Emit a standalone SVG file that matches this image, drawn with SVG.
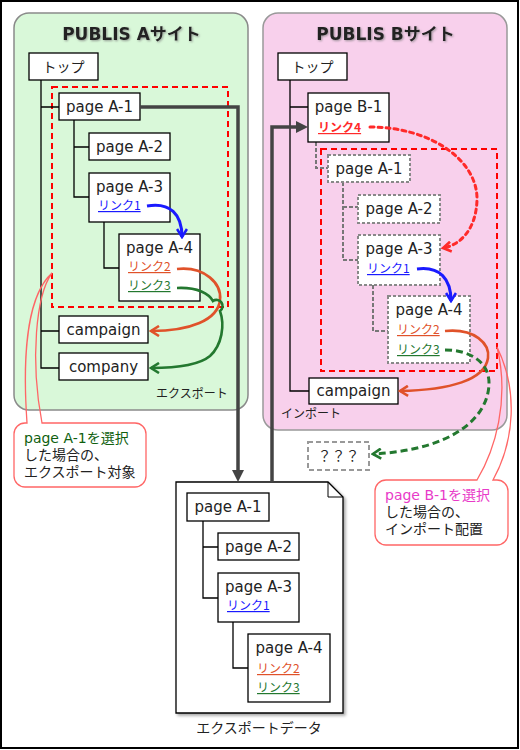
<svg xmlns="http://www.w3.org/2000/svg" width="520" height="750" viewBox="0 0 520 750">
<style>
.lat{font-family:"DejaVu Sans","Noto Sans CJK JP",sans-serif;font-size:15px;fill:#222}
.jp{font-family:"Noto Sans CJK JP","DejaVu Sans",sans-serif;fill:#222}
.box{fill:#fff;stroke:#000;stroke-width:1.3}
.dbox{fill:#fff;stroke:#888;stroke-width:2;stroke-dasharray:3 2}
.tree{fill:none;stroke:#000;stroke-width:1.3}
.dtree{fill:none;stroke:#777;stroke-width:2;stroke-dasharray:4 2}
.sel{fill:none;stroke:#f00;stroke-width:2;stroke-dasharray:6 4}
.lk{font-family:"Noto Sans CJK JP","DejaVu Sans",sans-serif;font-size:12px;text-decoration:underline}
.title{font-family:"DejaVu Sans","Noto Sans CJK JP",sans-serif;font-size:17px;font-weight:bold;fill:#222}
.thick{fill:none;stroke:#444;stroke-width:3.5}
.call{fill:none;stroke:#f66;stroke-width:1.3}
.ctext{font-family:"DejaVu Sans","Noto Sans CJK JP",sans-serif;font-size:14px}
.dk{fill:#222}
.cg{fill:#0f5f0f}
.cm{fill:#e83ac8}
</style>
<defs>
<filter id="tsh" x="-10%" y="-30%" width="120%" height="160%"><feDropShadow dx="1" dy="1" stdDeviation="0.8" flood-color="#777" flood-opacity="0.7"/></filter>
<filter id="dsh" x="-10%" y="-10%" width="120%" height="120%"><feDropShadow dx="2" dy="2" stdDeviation="1.5" flood-color="#000" flood-opacity="0.35"/></filter>
<marker id="mt" viewBox="0 0 12 12" refX="0" refY="6" markerWidth="12" markerHeight="12" markerUnits="userSpaceOnUse" orient="auto"><path d="M0,0 L12,6 L0,12 z" fill="#444"/></marker>
<marker id="mb" viewBox="0 0 12 12" refX="10" refY="6" markerWidth="12" markerHeight="12" markerUnits="userSpaceOnUse" orient="auto"><path d="M2,1 L10,6 L2,11" fill="none" stroke="#1a1aff" stroke-width="2.6"/></marker>
<marker id="mo" viewBox="0 0 12 12" refX="10" refY="6" markerWidth="12" markerHeight="12" markerUnits="userSpaceOnUse" orient="auto"><path d="M2,1 L10,6 L2,11" fill="none" stroke="#e0522a" stroke-width="2.6"/></marker>
<marker id="mg" viewBox="0 0 12 12" refX="10" refY="6" markerWidth="12" markerHeight="12" markerUnits="userSpaceOnUse" orient="auto"><path d="M2,1 L10,6 L2,11" fill="none" stroke="#23782f" stroke-width="2.6"/></marker>
<marker id="mr" viewBox="0 0 12 12" refX="10" refY="6" markerWidth="12" markerHeight="12" markerUnits="userSpaceOnUse" orient="auto"><path d="M2,1 L10,6 L2,11" fill="none" stroke="#ff2a2a" stroke-width="2.6"/></marker>
</defs>
<rect x="0" y="0" width="520" height="750" fill="#fff"/>
<rect x="1" y="1" width="517" height="747" fill="none" stroke="#000" stroke-width="2"/>

<g id="siteA">
<rect x="14" y="13" width="234" height="397" rx="15" fill="#d9f8d9" stroke="#8a8a8a" stroke-width="1.5"/>
<text class="title" x="131.5" y="40" text-anchor="middle" filter="url(#tsh)">PUBLIS Aサイト</text>
<text class="jp" x="156" y="398" font-size="12">エクスポート</text>
<rect class="sel" x="52" y="87" width="176" height="220"/>
</g>
<g id="siteB">
<rect x="263" y="13" width="244" height="417" rx="15" fill="#f8d0ec" stroke="#999" stroke-width="1.5"/>
<text class="title" x="385.5" y="40" text-anchor="middle" filter="url(#tsh)">PUBLIS Bサイト</text>
<text class="jp" x="281" y="418" font-size="12">インポート</text>
<rect class="sel" x="321" y="149" width="176" height="222"/>
</g>

<g id="trees">
<path class="tree" d="M41,80 V368 H59 M41,107 H59 M41,331 H59 M74,120 V197 H89 M74,147 H89 M104,222 V268 H119"/>
<path class="tree" d="M290,80 V391 H309 M290,107 H308"/>
<path class="dtree" d="M316,142 V168 H328 M343,182 V260 H358 M343,207 H358 M373,285 V331 H388"/>
</g>

<g id="a-top"><rect class="box" x="29" y="53" width="69" height="27"/><text class="jp" x="63.5" y="72" font-size="14" text-anchor="middle">トップ</text></g>
<g id="a-p1"><rect class="box" x="59" y="93" width="81" height="27"/><text class="lat" x="99.5" y="112" text-anchor="middle">page A-1</text></g>
<g id="a-p2"><rect class="box" x="89" y="133" width="81" height="27"/><text class="lat" x="129.5" y="152" text-anchor="middle">page A-2</text></g>
<g id="a-p3"><rect class="box" x="89" y="173" width="81" height="49"/><text class="lat" x="129.5" y="192" text-anchor="middle">page A-3</text><text class="lk" x="98" y="210" fill="#1a1aff">リンク1</text></g>
<g id="a-p4"><rect class="box" x="119" y="234" width="81" height="67"/><text class="lat" x="159.5" y="253" text-anchor="middle">page A-4</text><text class="lk" x="128" y="271" fill="#e0522a">リンク2</text><text class="lk" x="128" y="290" fill="#23782f">リンク3</text></g>
<g id="a-camp"><rect class="box" x="59" y="316" width="89" height="27"/><text class="lat" x="103.5" y="335" text-anchor="middle">campaign</text></g>
<g id="a-comp"><rect class="box" x="59" y="353" width="89" height="27"/><text class="lat" x="103.5" y="372" text-anchor="middle">company</text></g>

<g id="b-top"><rect class="box" x="278" y="53" width="69" height="27"/><text class="jp" x="312.5" y="72" font-size="14" text-anchor="middle">トップ</text></g>
<g id="b-p1"><rect class="box" x="308" y="93" width="81" height="49"/><text class="lat" x="348.5" y="112" text-anchor="middle">page B-1</text><text class="lk" x="318" y="132" fill="#ff2a2a" font-weight="bold">リンク4</text></g>
<g id="b-a1"><rect class="dbox" x="328" y="155" width="82" height="27"/><text class="lat" x="369" y="174" text-anchor="middle">page A-1</text></g>
<g id="b-a2"><rect class="dbox" x="358" y="195" width="82" height="28"/><text class="lat" x="399" y="214" text-anchor="middle">page A-2</text></g>
<g id="b-a3"><rect class="dbox" x="358" y="235" width="82" height="50"/><text class="lat" x="399" y="254" text-anchor="middle">page A-3</text><text class="lk" x="367" y="273" fill="#1a1aff">リンク1</text></g>
<g id="b-a4"><rect class="dbox" x="388" y="296" width="82" height="67"/><text class="lat" x="429" y="315" text-anchor="middle">page A-4</text><text class="lk" x="397" y="334" fill="#e0522a">リンク2</text><text class="lk" x="397" y="354" fill="#23782f">リンク3</text></g>
<g id="b-camp"><rect class="box" x="309" y="378" width="89" height="26"/><text class="lat" x="353.5" y="396" text-anchor="middle">campaign</text></g>
<g id="unknown"><rect x="308" y="442" width="61" height="28" fill="#fff" stroke="#999" stroke-width="2" stroke-dasharray="5 3"/><text class="jp" x="338.5" y="461" font-size="14" text-anchor="middle">？？？</text></g>

<g id="exportdata">
<path d="M176,482 H328 L343,497 V713 H176 Z" fill="#fff" stroke="#000" stroke-width="1.3" filter="url(#dsh)"/>
<path d="M328,482 V497 H343" fill="none" stroke="#000" stroke-width="1"/>
<path class="tree" d="M203,521 V598 H218 M203,547 H218 M233,622 V668 H248"/>
<rect class="box" x="187" y="493" width="82" height="28"/><text class="lat" x="228" y="512" text-anchor="middle">page A-1</text>
<rect class="box" x="218" y="533" width="81" height="27"/><text class="lat" x="258.5" y="552" text-anchor="middle">page A-2</text>
<rect class="box" x="218" y="573" width="81" height="49"/><text class="lat" x="258.5" y="592" text-anchor="middle">page A-3</text><text class="lk" x="227" y="610" fill="#1a1aff">リンク1</text>
<rect class="box" x="248" y="634" width="82" height="68"/><text class="lat" x="289" y="653" text-anchor="middle">page A-4</text><text class="lk" x="257" y="673" fill="#e0522a">リンク2</text><text class="lk" x="257" y="692" fill="#23782f">リンク3</text>
<text class="jp" x="259" y="733" font-size="14" text-anchor="middle">エクスポートデータ</text>
</g>

<g id="connectors">
<path class="thick" d="M140,107 H238 V470" marker-end="url(#mt)"/>
<path class="thick" d="M272,482 V127 H296" marker-end="url(#mt)"/>
<path d="M147,206 C170,202 182,214 182,237" fill="none" stroke="#1a1aff" stroke-width="3" marker-end="url(#mb)"/>
<path d="M177,269 C205,266 222,284 220,300 C218,320 190,331 151,331" fill="none" stroke="#e0522a" stroke-width="2.6" marker-end="url(#mo)"/>
<path d="M177,288 C198,287 209,294 213,301 A5,5 0 0 1 220,311 C225,325 222,345 210,356 C198,366 175,368 151,368" fill="none" stroke="#23782f" stroke-width="2.6" marker-end="url(#mg)"/>
<path d="M417,269 C440,266 451,279 451,301" fill="none" stroke="#1a1aff" stroke-width="3" marker-end="url(#mb)"/>
<path d="M370,127 C430,127 478,160 477,200 C476,230 460,245 443,248" fill="none" stroke="#ff2a2a" stroke-width="3" stroke-dasharray="4 4" stroke-linecap="round" marker-end="url(#mr)"/>
<path d="M445,331 C475,328 490,344 488,358 C485,380 450,390 400,391" fill="none" stroke="#e0522a" stroke-width="2.6" marker-end="url(#mo)"/>
<path d="M445,350 C470,350 490,362 489,385 C487,420 450,450 373,454" fill="none" stroke="#23782f" stroke-width="3" stroke-dasharray="7 4" marker-end="url(#mg)"/>
</g>

<g id="calloutA">
<rect x="14" y="423" width="132" height="64" rx="11" fill="#fff"/>
<path class="call" d="M27,423 C24,380 22,300 52,273 C36,295 30,360 42,423 H135 A11,11 0 0 1 146,434 V476 A11,11 0 0 1 135,487 H25 A11,11 0 0 1 14,476 V434 A11,11 0 0 1 25,423 Z"/>
<text class="ctext cg" x="24" y="443">page A-1を選択</text>
<text class="ctext dk" x="24" y="460">した場合の、</text>
<text class="ctext dk" x="24" y="477">エクスポート対象</text>
</g>
<g id="calloutB">
<rect x="375" y="480" width="133" height="65" rx="11" fill="#fff"/>
<path class="call" d="M477,480 C495,450 510,400 497,347 C518,390 515,440 493,480 H497 A11,11 0 0 1 508,491 V534 A11,11 0 0 1 497,545 H386 A11,11 0 0 1 375,534 V491 A11,11 0 0 1 386,480 Z"/>
<text class="ctext cm" x="385" y="500">page B-1を選択</text>
<text class="ctext dk" x="385" y="517">した場合の、</text>
<text class="ctext dk" x="385" y="534">インポート配置</text>
</g>
</svg>
